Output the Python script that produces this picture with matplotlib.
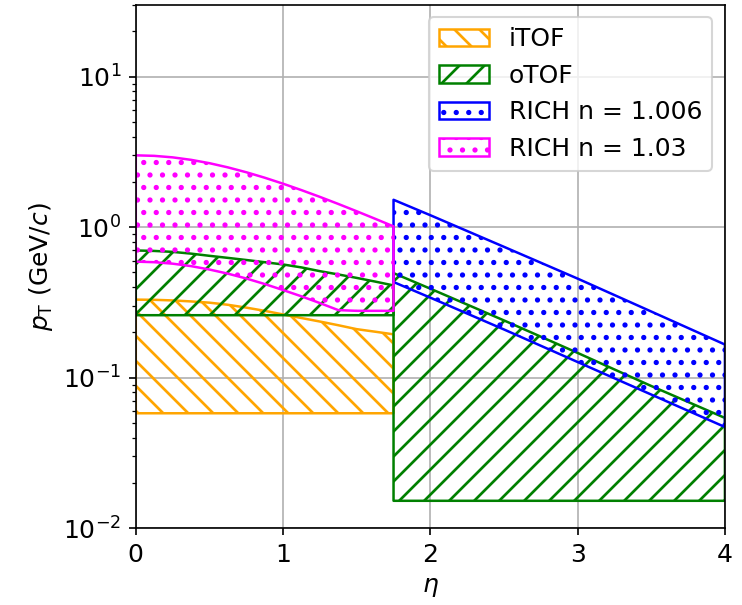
import matplotlib
matplotlib.use("Agg")
import matplotlib.pyplot as plt

# Left region (barrel, eta 0 - 1.75)
eta_left = [0.0, 0.125, 0.25, 0.375, 0.5, 0.625, 0.75, 0.875, 1.0,
            1.125, 1.25, 1.375, 1.5, 1.625, 1.75]
itof_hi = [0.33, 0.329, 0.326, 0.321, 0.315, 0.305, 0.292, 0.278, 0.263,
           0.249, 0.236, 0.223, 0.21, 0.202, 0.194]
itof_lo = [0.058] * 15
otof_left_hi = [0.70, 0.695, 0.685, 0.667, 0.645, 0.625, 0.605, 0.585, 0.565,
                0.54, 0.51, 0.485, 0.46, 0.435, 0.41]
otof_left_lo = [0.26] * 15
rich103_hi = [3.0, 2.977, 2.909, 2.801, 2.661, 2.496, 2.317, 2.131, 1.944,
              1.762, 1.589, 1.426, 1.275, 1.137, 1.012]
rich103_lo = [0.59, 0.585, 0.572, 0.551, 0.523, 0.491, 0.456, 0.419, 0.382,
              0.347, 0.313, 0.281, 0.278, 0.278, 0.278]

# Right region (forward, eta 1.75 - 4)
eta_right = [1.75, 2.0, 2.5, 3.0, 3.5, 4.0]
otof_right_hi = [0.495, 0.39, 0.24, 0.146, 0.088, 0.054]
otof_right_lo = [0.0152] * 6
rich1006_hi = [1.52, 1.2, 0.74, 0.455, 0.275, 0.166]
rich1006_lo = [0.432, 0.34, 0.209, 0.127, 0.0772, 0.047]

labels = ["iTOF", "oTOF", "RICH n = 1.006", "RICH n = 1.03"]
colors = ["orange", "green", "blue", "magenta"]
hatches = ["\\\\", "//", "..", ".."]

plt.rcParams["font.size"] = 12
plt.rcParams["font.family"] = ["DejaVu Sans"]
plt.rcParams["hatch.linewidth"] = 1.3

fig = plt.figure(figsize=(742 / 150, 605 / 150), dpi=150)
ax = fig.add_axes([0.183, 0.127, 0.794, 0.865])

lw = 1.2
ax.fill_between(eta_left, itof_lo, itof_hi, facecolor="none", lw=lw,
                edgecolor=colors[0], hatch=hatches[0], label=labels[0])
ax.fill_between(eta_left, otof_left_lo, otof_left_hi, facecolor="none", lw=lw,
                edgecolor=colors[1], hatch=hatches[1], label=labels[1])
ax.fill_between(eta_right, otof_right_lo, otof_right_hi, facecolor="none", lw=lw,
                edgecolor=colors[1], hatch=hatches[1])
ax.fill_between(eta_right, rich1006_lo, rich1006_hi, facecolor="none", lw=lw,
                edgecolor=colors[2], hatch=hatches[2], label=labels[2])
ax.fill_between(eta_left, rich103_lo, rich103_hi, facecolor="none", lw=lw,
                edgecolor=colors[3], hatch=hatches[3], label=labels[3])

ax.set_yscale("log")
ax.set_xlim(0, 4)
ax.set_ylim(0.01, 30)
ax.set_xticks([0, 1, 2, 3, 4])
ax.grid(True, which="major")
ax.set_axisbelow(True)
ax.set_xlabel(r"$\eta$")
ax.set_ylabel(r"$p_\mathrm{T}$ (GeV/$c$)")
ax.legend(loc="upper right")

fig.savefig("out.png", dpi=150)
